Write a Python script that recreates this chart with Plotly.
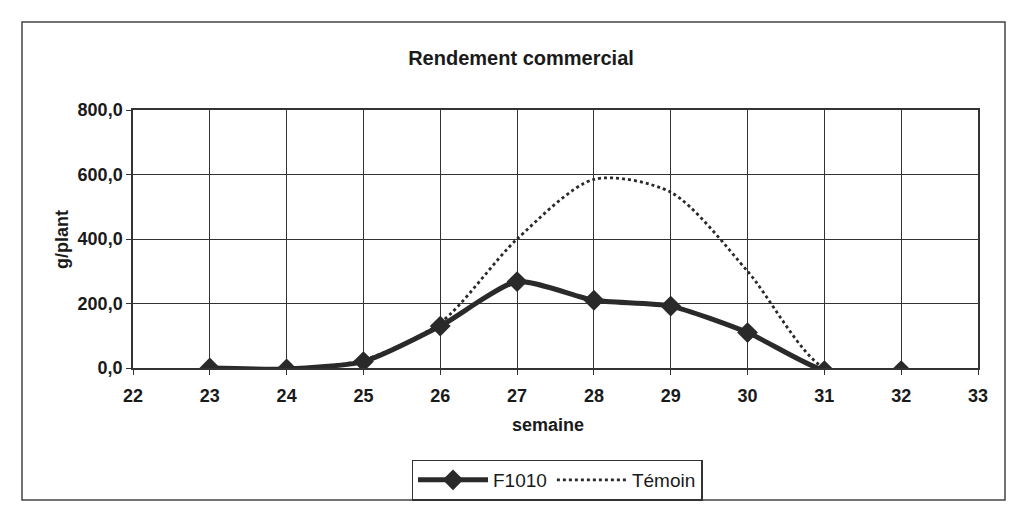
import plotly.graph_objects as go

weeks = [23, 24, 25, 26, 27, 28, 29, 30, 31, 32]
f1010 = [0, -3, 20, 130, 268, 210, 192, 110, -8, -8]
temoin = [0, -3, 25, 140, 400, 585, 545, 300, 0, -8]

title_text = "Rendement commercial"
x_title = "semaine"
y_title = "g/plant"

ink = "#2a2a2a"
font_family = "Liberation Sans, Arial, sans-serif"

# page offset (browser body margin)
O = 8
W, H = 1014 - 2 * O, 510 - 2 * O
# plot area in page pixels
PL, PR, PT, PB = 133, 978, 110, 368
L, R, T, B = PL - O, W - (PR - O), PT - O, H - (PB - O)
pw, ph = PR - PL, PB - PT


def px_x(p):
    return (p - PL) / pw


def px_y(p):
    return (PB - p) / ph


fig = go.Figure()
fig.add_trace(go.Scatter(
    x=weeks, y=f1010, name="F1010", mode="lines+markers",
    line=dict(color=ink, width=5, shape="spline", smoothing=0.6),
    marker=dict(symbol="diamond", size=16, color=ink),
))
fig.add_trace(go.Scatter(
    x=weeks, y=temoin, name="Témoin", mode="lines",
    line=dict(color=ink, width=2.8, dash="dot", shape="spline", smoothing=0.8),
))

fig.update_layout(
    width=W, height=H,
    margin=dict(l=L, r=R, t=T, b=B, autoexpand=False),
    paper_bgcolor="white", plot_bgcolor="white",
    font=dict(family=font_family, size=17, color="#1a1a1a", weight="bold"),
    title=dict(text="<b>" + title_text + "</b>", x=(521 - O) / W, xanchor="center",
               y=1 - (58 - O) / H, yanchor="middle", yref="container",
               font=dict(size=20, color="#1a1a1a")),
    showlegend=True,
    legend=dict(orientation="h", x=px_x(557), xanchor="center",
                y=px_y(480), yanchor="middle",
                bordercolor="#333", borderwidth=1.5, bgcolor="white",
                itemwidth=70,
                font=dict(size=19, weight="normal", color="#1a1a1a"),
                tracegroupgap=0),
    separators=",.",
    xaxis=dict(range=[22, 33], dtick=1, tick0=22, showgrid=True,
               gridcolor="#333", gridwidth=1, zeroline=False,
               showline=True, linecolor="#333", linewidth=1.5, mirror=True,
               ticks="outside", ticklen=5, tickcolor="#333",
               ticklabelstandoff=6, tickfont=dict(size=18, weight="bold")),
    yaxis=dict(range=[0, 800], dtick=200, showgrid=True, tickformat=".1f",
               gridcolor="#333", gridwidth=1, zeroline=False,
               showline=True, linecolor="#333", linewidth=1.5, mirror=True,
               ticks="outside", ticklen=5, tickcolor="#333",
               ticklabelstandoff=0, tickfont=dict(size=18, weight="bold")),
    annotations=[
        dict(text=x_title, xref="paper", yref="paper", x=px_x(548), y=px_y(437),
             showarrow=False, font=dict(size=18, color="#1a1a1a", weight="bold")),
        dict(text=y_title, xref="paper", yref="paper", x=px_x(50), y=px_y(240),
             showarrow=False, textangle=-90,
             font=dict(size=18, color="#1a1a1a", weight="bold")),
    ],
    shapes=[
        dict(type="rect", xref="paper", yref="paper",
             x0=px_x(22), x1=px_x(1005), y0=px_y(500), y1=px_y(22),
             line=dict(color="#444", width=1.5), layer="below"),
    ],
)

fig.write_html("out.html")
